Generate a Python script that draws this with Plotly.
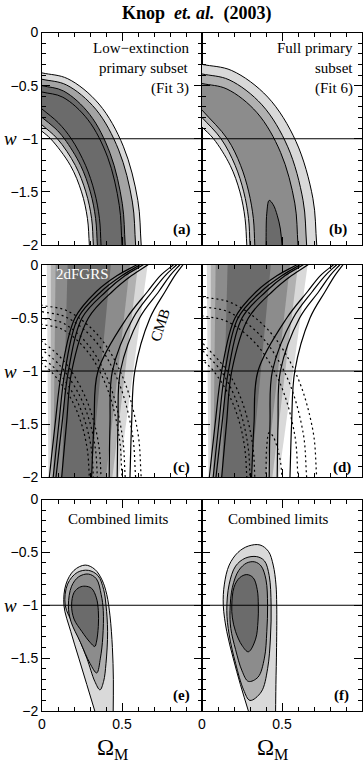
import plotly.graph_objects as go

# ---------------- data (Omega_M, w) ----------------
# Panel (a): SN low-extinction primary subset (Fit 3); upper-right (U) and lower-left (L) boundaries
A99_UX = [0, .161, .356, .508, .599, .62];   A99_UW = [-.38, -.435, -.673, -1.07, -1.58, -2]
A95_UX = [0, .152, .336, .479, .565, .585];  A95_UW = [-.44, -.493, -.722, -1.105, -1.596, -2]
A90_UX = [0, .135, .298, .426, .502, .52];   A90_UW = [-.50, -.551, -.771, -1.139, -1.611, -2]
A68_UX = [0, .130, .287, .410, .483, .50];   A68_UW = [-.56, -.609, -.821, -1.173, -1.627, -2]
A99_LX = [0, .054, .177, .247, .284, .296];  A99_LW = [-.93, -1, -1.25, -1.5, -1.75, -2]
A95_LX = [0, .096, .208, .274, .310, .321];  A95_LW = [-.87, -1, -1.25, -1.5, -1.75, -2]
A90_LX = [0, .081, .140, .241, .302, .335, .346]; A90_LW = [-.80, -.9, -1, -1.25, -1.5, -1.75, -2]
A68_LX = [0, .102, .183, .272, .328, .359, .369]; A68_LW = [-.72, -.85, -1, -1.25, -1.5, -1.75, -2]

# Panel (b): full primary subset (Fit 6)
B99_UX = [0, .186, .411, .587, .693, .717];  B99_UW = [-.30, -.358, -.608, -1.024, -1.56, -2]
B95_UX = [0, .169, .375, .536, .632, .654];  B95_UW = [-.39, -.445, -.681, -1.076, -1.583, -2]
B90_UX = [0, .156, .344, .491, .580, .60];   B90_UW = [-.48, -.532, -.755, -1.128, -1.606, -2]
B99_LX = [0, .072, .176, .237, .269, .28];   B99_LW = [-.89, -1, -1.25, -1.5, -1.75, -2]
B95_LX = [0, .119, .207, .261, .291, .30];   B95_LW = [-.80, -1, -1.25, -1.5, -1.75, -2]
B90_LX = [0, .158, .241, .292, .321, .33];   B90_LW = [-.73, -1, -1.25, -1.5, -1.75, -2]
B68_X = [.40, .405, .42, .445, .47, .49, .50]; B68_W = [-2, -1.7, -1.58, -1.62, -1.72, -1.85, -2]

# Panels (c),(d): 2dFGRS bands, straight edges (Omega_M at w=0 and at w=-2)
G_W = [0, -2]
G99_L = [.03, .04];  G99_R = [.66, .48]
G95_L = [.055, .055]; G95_R = [.60, .44]
G90_L = [.085, .07]; G90_R = [.55, .40]
G68_L = [.16, .125]; G68_R = [.43, .305]

# CMB contour lines, Omega_M at the w levels below
CMB_W = [-2, -1.5, -1, -0.5, -0.25, -0.1, 0]
CMB_L1 = [.046, .082, .123, .206, .34, .47, .59]
CMB_L2 = [.07, .105, .144, .225, .37, .50, .61]
CMB_L3 = [.0875, .125, .165, .25, .40, .52, .63]
CMB_L4 = [.123, .153, .186, .29, .44, .56, .66]
CMB_R1 = [.31, .325, .35, .53, .66, .74, .82]
CMB_R2 = [.42, .425, .44, .57, .69, .77, .84]
CMB_R3 = [.47, .475, .49, .61, .73, .80, .86]
CMB_R4 = [.55, .56, .58, .675, .77, .83, .88]

# Panels (e),(f): combined limits (closed contours; 99% open at the bottom)
E99_X = [.33, .28, .23, .18, .137, .15, .20, .27, .33, .375, .405, .425, .44, .446, .445]
E99_W = [-2, -1.75, -1.5, -1.25, -1.0, -.8, -.67, -.62, -.66, -.76, -.9, -1.1, -1.4, -1.7, -2]
E95_X = [.29, .35, .385, .40, .41, .40, .385, .3625, .33, .28, .20, .145, .16, .22]
E95_W = [-.67, -.72, -.85, -1.0, -1.25, -1.55, -1.72, -1.80, -1.72, -1.5, -1.2, -1.0, -.8, -.69]
E90_X = [.29, .34, .37, .383, .38, .365, .342, .30, .24, .18, .165, .185, .23]
E90_W = [-.705, -.75, -.9, -1.05, -1.3, -1.5, -1.64, -1.55, -1.35, -1.15, -1.0, -.82, -.73]
E68_X = [.27, .31, .34, .352, .352, .34, .33, .30, .25, .20, .185, .20, .235]
E68_W = [-.82, -.84, -.93, -1.05, -1.2, -1.35, -1.39, -1.35, -1.25, -1.13, -1.0, -.88, -.83]

F99_X = [.29, .24, .195, .155, .133, .14, .17, .225, .29, .3625, .415, .445, .462, .467, .466, .462, .46]
F99_W = [-2, -1.75, -1.5, -1.25, -1.0, -.8, -.62, -.5, -.44, -.43, -.49, -.62, -.8, -1.0, -1.4, -1.75, -2]
F95_X = [.342, .39, .42, .432, .428, .41, .37, .30, .26, .21, .17, .155, .17, .21, .27]
F95_W = [-.54, -.58, -.72, -1.0, -1.3, -1.6, -1.82, -1.90, -1.8, -1.55, -1.28, -1.05, -.8, -.63, -.555]
F90_X = [.33, .37, .40, .41, .405, .39, .35, .29, .25, .21, .18, .175, .19, .23, .28]
F90_W = [-.59, -.63, -.76, -1.0, -1.25, -1.5, -1.68, -1.72, -1.62, -1.42, -1.22, -1.05, -.83, -.67, -.6]
F68_X = [.28, .32, .345, .352, .35, .335, .29, .25, .21, .19, .186, .2, .235]
F68_W = [-.71, -.74, -.85, -1.0, -1.15, -1.32, -1.44, -1.38, -1.25, -1.12, -1.0, -.83, -.74]

W_REF = -1
Y_TICKS = [0, -0.5, -1, -1.5, -2]
Y_TICKTEXT = ["0", "\u22120.5", "\u22121", "\u22121.5", "\u22122"]
X_TICKS = [0, 0.5, 1]
PANEL_TAGS = ["(a)", "(b)", "(c)", "(d)", "(e)", "(f)"]

# ---------------- styling ----------------
C99, C95, C90, C68 = "#d9d9d9", "#b0b0b0", "#8c8c8c", "#6b6b6b"
CMID_A = "#a4a4a4"
SERIF = "Liberation Serif"
SANS = "Liberation Sans"
W, H = 364, 768
XD = [[42 / W, 202 / W], [202 / W, 362 / W]]
YD = [[1 - 245 / H, 1 - 32.5 / H], [1 - 477 / H, 1 - 265 / H], [1 - 711 / H, 1 - 499.5 / H]]
TAG_POS = [(0.945, -1.85), (0.92, -1.85), (0.94, -1.91), (0.945, -1.91), (0.94, -1.85), (0.93, -1.85)]

fig = go.Figure()


def ax(k):
    return ("x" if k == 0 else f"x{k+1}"), ("y" if k == 0 else f"y{k+1}")


def ext(xs, ys, k=1.0):
    x0 = xs[0] + (xs[0] - xs[1]) * k
    y0 = ys[0] + (ys[0] - ys[1]) * k
    xn = xs[-1] + (xs[-1] - xs[-2]) * k
    yn = ys[-1] + (ys[-1] - ys[-2]) * k
    return [x0] + list(xs) + [xn], [y0] + list(ys) + [yn]


def band(k, ux, uw, lx, lw, color, shape="spline"):
    xa, ya = ax(k)
    X1, Y1 = ext(ux, uw)
    X2, Y2 = ext(lx, lw)
    fig.add_trace(go.Scatter(x=X1 + X2[::-1], y=Y1 + Y2[::-1], xaxis=xa, yaxis=ya, mode="lines",
                             fill="toself", fillcolor=color, line=dict(width=0, shape=shape),
                             hoverinfo="skip", showlegend=False))


def blob(k, xs, ws, color, closed=True):
    xa, ya = ax(k)
    if closed:
        X, Y = list(xs) + [xs[0]], list(ws) + [ws[0]]
    else:
        X, Y = ext(xs, ws)
    fig.add_trace(go.Scatter(x=X, y=Y, xaxis=xa, yaxis=ya, mode="lines", fill="toself",
                             fillcolor=color, line=dict(color="black", width=1, shape="spline"),
                             hoverinfo="skip", showlegend=False))


def curve(k, xs, ws, dash="solid", width=1.0):
    xa, ya = ax(k)
    X, Y = ext(xs, ws)
    fig.add_trace(go.Scatter(x=X, y=Y, xaxis=xa, yaxis=ya, mode="lines",
                             line=dict(color="black", width=width, dash=dash, shape="spline"),
                             hoverinfo="skip", showlegend=False))


A_SETS = [(A99_UX, A99_UW, A99_LX, A99_LW, C99), (A95_UX, A95_UW, A95_LX, A95_LW, CMID_A),
          (A90_UX, A90_UW, A90_LX, A90_LW, C68), (A68_UX, A68_UW, A68_LX, A68_LW, C68)]
B_SETS = [(B99_UX, B99_UW, B99_LX, B99_LW, C99), (B95_UX, B95_UW, B95_LX, B95_LW, C95),
          (B90_UX, B90_UW, B90_LX, B90_LW, C90)]

# (a)
for ux, uw, lx, lw, c in A_SETS:
    band(0, ux, uw, lx, lw, c)
for ux, uw, lx, lw, c in A_SETS:
    curve(0, ux, uw); curve(0, lx, lw)
# (b)
for ux, uw, lx, lw, c in B_SETS:
    band(1, ux, uw, lx, lw, c)
blob(1, B68_X, B68_W, C68, closed=False)
for ux, uw, lx, lw, c in B_SETS:
    curve(1, ux, uw); curve(1, lx, lw)

# (c), (d)
G_SETS = [(G99_L, G99_R, C99), (G95_L, G95_R, C95), (G90_L, G90_R, C90), (G68_L, G68_R, C68)]
CMB = [CMB_L1, CMB_L2, CMB_L3, CMB_L4, CMB_R1, CMB_R2, CMB_R3, CMB_R4]
for k, sets in ((2, A_SETS), (3, B_SETS)):
    for gl, gr, c in G_SETS:
        band(k, gr, G_W, gl, G_W, c, shape="linear")
    for ux, uw, lx, lw, c in sets:
        curve(k, ux, uw, dash="2px,3px", width=1.2)
        curve(k, lx, lw, dash="2px,3px", width=1.2)
    if k == 3:
        curve(k, B68_X, B68_W, dash="2px,3px", width=1.2)
    for cx in CMB:
        curve(k, cx, CMB_W, width=1.2)

# (e), (f)
blob(4, E99_X, E99_W, C99, closed=False)
blob(4, E95_X, E95_W, C95)
blob(4, E90_X, E90_W, C90)
blob(4, E68_X, E68_W, C68)
blob(5, F99_X, F99_W, C99, closed=False)
blob(5, F95_X, F95_W, C95)
blob(5, F90_X, F90_W, C90)
blob(5, F68_X, F68_W, C68)

# axes
lay = {}
for k in range(6):
    r, c = divmod(k, 2)
    sx = "xaxis" if k == 0 else f"xaxis{k+1}"
    sy = "yaxis" if k == 0 else f"yaxis{k+1}"
    xa, ya = ax(k)
    common = dict(showline=True, linecolor="black", linewidth=1, mirror="ticks", ticks="inside",
                  ticklen=8, tickwidth=1, tickcolor="black", showgrid=False, zeroline=False,
                  automargin=False,
                  minor=dict(dtick=0.1, ticks="inside", ticklen=4, tickcolor="black", tickwidth=1,
                             showgrid=False),
                  tickfont=dict(family=SANS, size=14, color="black"), fixedrange=True)
    lay[sx] = dict(common, domain=XD[c], range=[0, 1], anchor=ya, tickvals=X_TICKS,
                   ticktext=(["0", "0.5", ""] if c == 0 else ["0", "0.5", "1"]),
                   showticklabels=(r == 2))
    lay[sy] = dict(common, domain=YD[r], range=[-2, 0], anchor=xa, tickvals=Y_TICKS,
                   ticktext=Y_TICKTEXT, showticklabels=(c == 0))

shapes = []
for k in range(6):
    xa, ya = ax(k)
    shapes.append(dict(type="line", xref=xa, yref=ya, x0=0, x1=1, y0=W_REF, y1=W_REF,
                       line=dict(color="black", width=1), layer="above"))

ann = []
ann.append(dict(text="<b>Knop  <i>et. al.</i>  (2003)</b>", x=197 / W, y=1 - 13 / H, xref="paper",
                yref="paper", xanchor="center", yanchor="middle", showarrow=False,
                font=dict(family=SERIF, size=18, color="black")))
for r in range(3):
    ann.append(dict(text="<i>w</i>", x=10 / W, y=(YD[r][0] + YD[r][1]) / 2, xref="paper", yref="paper",
                    xanchor="center", yanchor="middle", showarrow=False,
                    font=dict(family=SERIF, size=19, color="black")))
for k, tag in enumerate(PANEL_TAGS):
    xa, ya = ax(k)
    tx, ty = TAG_POS[k]
    ann.append(dict(text="<b>" + tag + "</b>", x=tx, y=ty, xref=xa, yref=ya, xanchor="right",
                    yanchor="middle", showarrow=False, font=dict(family=SERIF, size=15, color="black")))
for k, lines in ((0, ["Low\u2212extinction", "primary subset", "(Fit 3)"]),
                 (1, ["Full primary", "subset", "(Fit 6)"])):
    xa, ya = ax(k)
    for i, t in enumerate(lines):
        ann.append(dict(text=t, x=0.93 if k == 0 else 0.955, y=-0.147 - 0.19 * i, xref=xa, yref=ya,
                        xanchor="right", yanchor="middle", showarrow=False,
                        font=dict(family=SERIF, size=15, color="black")))
ann.append(dict(text="2dFGRS", x=0.256, y=-0.085, xref="x3", yref="y3", showarrow=False,
                xanchor="center", yanchor="middle", font=dict(family=SERIF, size=15, color="white")))
ann.append(dict(text="CMB", x=0.74, y=-0.57, xref="x3", yref="y3", showarrow=False, textangle=-72,
                xanchor="center", yanchor="middle", font=dict(family=SERIF, size=15, color="black")))
for k in (4, 5):
    xa, ya = ax(k)
    ann.append(dict(text="Combined limits", x=0.475, y=-0.185, xref=xa, yref=ya, showarrow=False,
                    xanchor="center", yanchor="middle",
                    font=dict(family=SERIF, size=15, color="black")))
    ann.append(dict(text="\u03a9<sub>M</sub>", x=0.44, y=1 - 733 / H, xref=xa, yref="paper",
                    xanchor="center", yanchor="top", showarrow=False,
                    font=dict(family=SERIF, size=23, color="black")))

fig.update_layout(template="none", width=W, height=H, margin=dict(l=0, r=0, t=0, b=0),
                  paper_bgcolor="white", plot_bgcolor="white", showlegend=False, shapes=shapes,
                  annotations=ann, **lay)
fig.write_html("out.html", config={"displayModeBar": False, "staticPlot": True},
               post_script="document.body.style.margin='0px';document.body.style.overflow='hidden';")
